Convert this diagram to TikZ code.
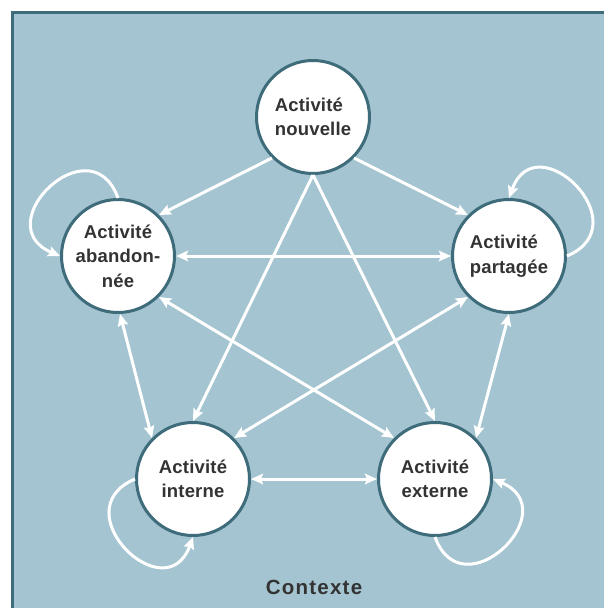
\documentclass[tikz,border=0pt]{standalone}
\usepackage{fontspec}
\setmainfont{Liberation Sans}
\newfontfamily\nodefont[LetterSpace=1]{Liberation Sans}
\newfontfamily\ctxfont[LetterSpace=6]{Liberation Sans}
\usetikzlibrary{arrows.meta}
\definecolor{bgblue}{HTML}{A3C4D0}
\definecolor{frameblue}{HTML}{3F6C7B}
\definecolor{txtgray}{HTML}{333333}
\begin{document}
\begin{tikzpicture}[x=1pt,y=-1pt,
  act/.style={circle, draw=frameblue, line width=3pt, fill=white, minimum size=113pt,
    inner sep=0pt, text=txtgray, font={\nodefont\fontsize{18.5}{24.5}\selectfont\bfseries}},
  tipw/.tip={Stealth[length=12pt,width=10.5pt,inset=2pt]},
  link/.style={draw=white, line width=3pt, -tipw},
  dlink/.style={draw=white, line width=3pt, tipw-tipw}
]
\useasboundingbox (0,0) rectangle (603,608);
\draw[frameblue, line width=3pt, fill=bgblue] (12.5,12.5) rectangle (650,650);

\node[act, align=left]   (nv) at (313,117) {Activité\\nouvelle};
\node[act, align=center] (ab) at (118,256) {Activité\\abandon-\\née};
\node[act, align=left]   (pa) at (509,256) {Activité\\partagée};
\node[act, align=center] (it) at (193,479) {Activité\\interne};
\node[act, align=center] (ex) at (435,479) {Activité\\externe};

\node[font={\ctxfont\fontsize{20.5}{24}\selectfont\bfseries}, text=txtgray, anchor=base] (ctx) at (314,594) {Contexte};

% from nouvelle
\draw[link] (nv.-135) -- (ab.45);
\draw[link] (nv.-45) -- (pa.135);
\draw[link] (nv.-90) -- (it.90);
\draw[link] (nv.-90) -- (ex.90);

% double links
\draw[dlink] (ab.0) -- (pa.180);
\draw[dlink] (ab.-88) -- (it.135);
\draw[dlink] (ab.-45) -- (ex.135);
\draw[dlink] (pa.-135) -- (it.45);
\draw[dlink] (pa.-90) -- (ex.45);
\draw[dlink] (it.0) -- (ex.180);

% self loops
\draw[link] (ab.90) to[out=110,in=157,looseness=2.5] (ab.180);
\draw[link] (pa.0) to[out=23,in=70,looseness=2.5] (pa.90);
\draw[link] (it.180) to[out=203,in=250,looseness=2.5] (it.-90);
\draw[link] (ex.-90) to[out=290,in=337,looseness=2.5] (ex.0);
\end{tikzpicture}
\end{document}
